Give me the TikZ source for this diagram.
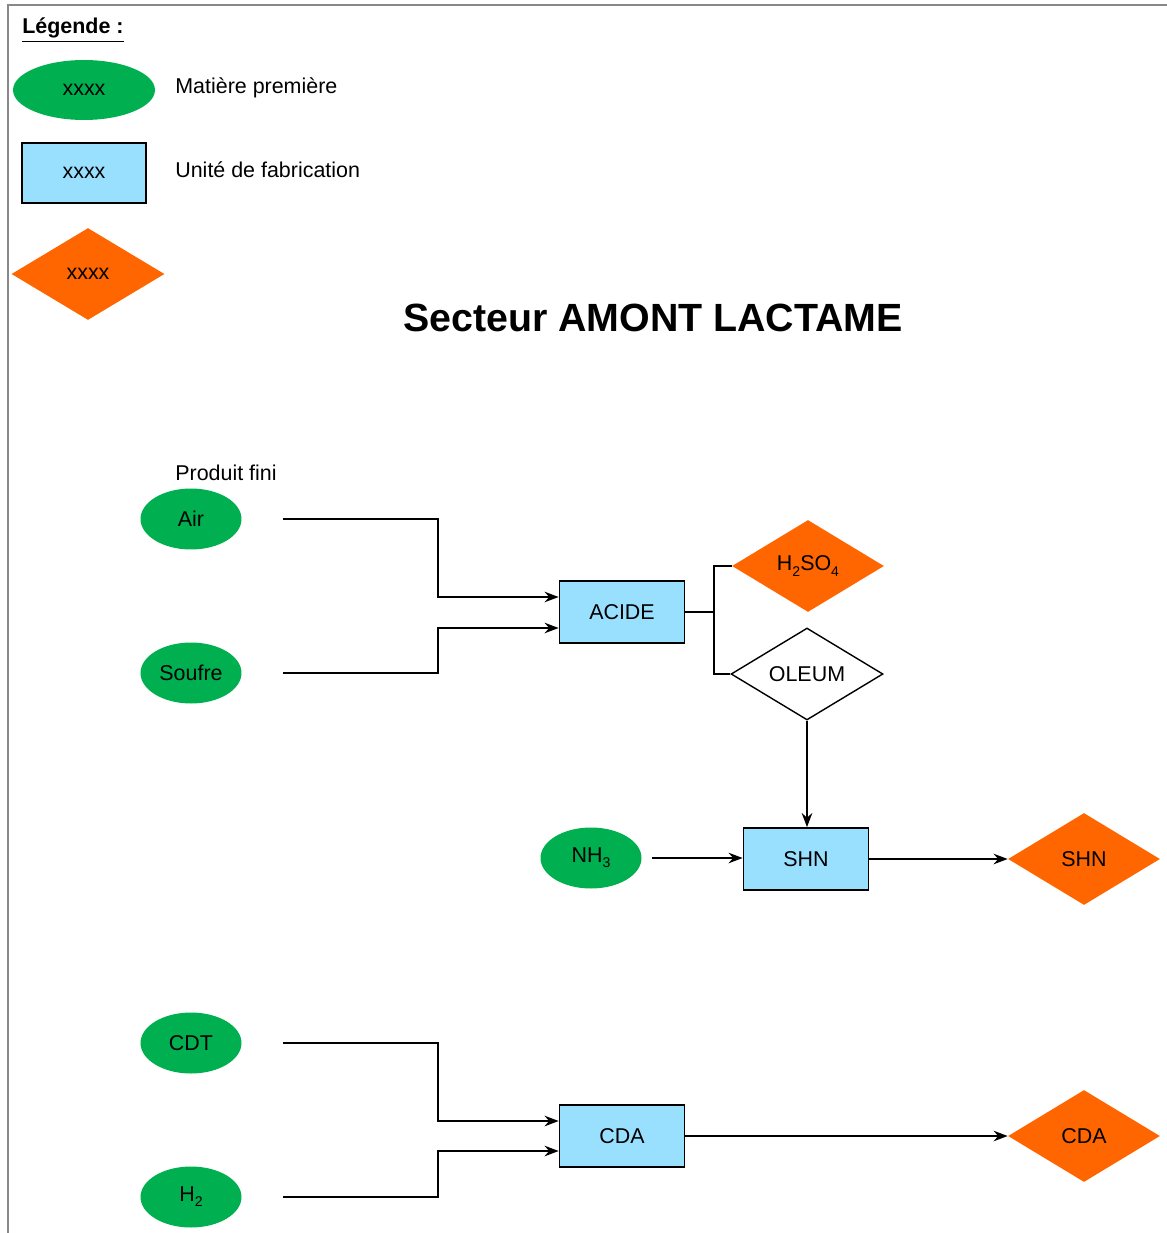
\documentclass[tikz,border=0pt]{standalone}
\usepackage{fontspec}
\setmainfont{Liberation Sans}
\usetikzlibrary{shapes.geometric,arrows.meta}
\definecolor{matgreen}{HTML}{00B050}
\definecolor{unitblue}{HTML}{99E0FF}
\definecolor{prodorange}{HTML}{FF6600}
\definecolor{framegray}{HTML}{888888}
\newcommand\chemsub[1]{\raisebox{-0.45ex}{\fontsize{8}{9}\selectfont #1}}
\tikzset{
  txt/.style={font=\fontsize{12.2}{14}\selectfont, inner sep=0pt},
  matiere/.style={ellipse, fill=matgreen, inner sep=0pt, minimum width=2.02cm, minimum height=1.22cm, txt},
  unite/.style={rectangle, draw=black, line width=1pt, fill=unitblue, inner sep=0pt, minimum width=2.5cm, minimum height=1.24cm, txt},
  produit/.style={diamond, fill=prodorange, inner sep=0pt, minimum width=3.04cm, minimum height=1.84cm, txt},
  interm/.style={diamond, draw=black, line width=0.8pt, fill=white, inner sep=0pt, minimum width=3.04cm, minimum height=1.84cm, txt},
  flow/.style={draw=black, line width=1pt, -{Stealth[length=8pt,width=6pt]}},
  link/.style={draw=black, line width=1pt},
  label/.style={txt, anchor=west}
}
\begin{document}
\begin{tikzpicture}[x=0.02cm,y=-0.02cm]
\useasboundingbox (0,0) rectangle (1166,1233);
% frame
\draw[framegray, line width=1.2pt] (8,1240) -- (8,5) -- (1170,5);
% legend
\node[txt, anchor=base west, font=\bfseries\fontsize{12.2}{14}\selectfont] (leg) at (22,34) {\underline{Légende :}};
\node[matiere, minimum width=2.84cm, minimum height=1.2cm] (lmat) at (84,90) {xxxx};
\node[label] (lmattxt) at (175,88) {Matière première};
\node[unite, minimum width=2.48cm, minimum height=1.2cm] (lunit) at (84,173) {xxxx};
\node[label] (lunittxt) at (175,170) {Unité de fabrication};
\node[produit, minimum width=3.06cm, minimum height=1.84cm] (lprod) at (88,274) {xxxx};
% title
\node[font=\bfseries\fontsize{22.4}{26}\selectfont, inner sep=0pt] (title) at (653,318) {Secteur AMONT LACTAME};
\node[label] (pf) at (175,473) {Produit fini};
% nodes
\node[matiere] (air) at (191,519) {Air};
\node[matiere] (soufre) at (191,673) {Soufre};
\node[unite] (acide) at (622,612) {ACIDE};
\node[produit] (h2so4) at (808,566) {H\chemsub{2}SO\chemsub{4}};
\node[interm] (oleum) at (807,674) {OLEUM};
\node[matiere] (nh3) at (591,858) {NH\chemsub{3}};
\node[unite] (shnu) at (806,859) {SHN};
\node[produit] (shnp) at (1084,859) {SHN};
\node[matiere] (cdt) at (191,1043) {CDT};
\node[matiere] (h2) at (191,1197) {H\chemsub{2}};
\node[unite] (cda) at (622,1136) {CDA};
\node[produit] (cdap) at (1084,1136) {CDA};
% connector start points
\coordinate (airs) at (283,519);
\coordinate (soufres) at (283,673);
\coordinate (nh3s) at (652,858);
\coordinate (cdts) at (283,1043);
\coordinate (h2s) at (283,1197);
% connectors
\draw[flow] (airs) -- (438,519) -- (438,597) -- (acide.west |- 0,597);
\draw[flow] (soufres) -- (438,673) -- (438,628) -- (acide.west |- 0,628);
\draw[link] (acide.east) -- (714,612);
\draw[link] (h2so4.west) -- (714,566) -- (714,674) -- (oleum.west);
\draw[flow] (oleum.south) -- (shnu.north -| oleum.south);
\draw[flow] (nh3s) -- (shnu.west |- nh3s);
\draw[flow] (shnu.east) -- (shnp.west);
\draw[flow] (cdts) -- (438,1043) -- (438,1121) -- (cda.west |- 0,1121);
\draw[flow] (h2s) -- (438,1197) -- (438,1151) -- (cda.west |- 0,1151);
\draw[flow] (cda.east) -- (cdap.west);
\end{tikzpicture}
\end{document}
